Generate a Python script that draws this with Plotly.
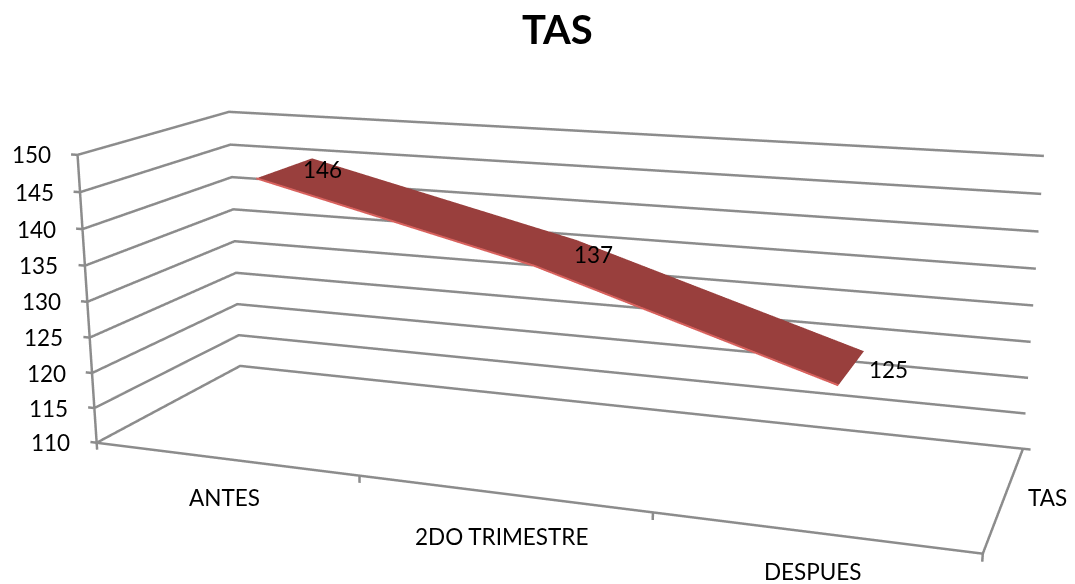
import plotly.graph_objects as go

categories = ["ANTES", "2DO TRIMESTRE", "DESPUES"]
series_name = "TAS"
values = [146, 137, 125]
z_ticks = list(range(110, 151, 5))

# Window size, and a camera for the scene. Plotly's field of view is fixed, so the
# scene is drawn on a larger canvas that the window crops, which narrows the view.
W, H = 1075, 584
S = 2.7063
AXIS_CENTRE = (508.13, 355.39)
EYE = (0.6902, -1.9503, 0.5195)
CENTRE = (-0.0172, -0.1047, -0.0337)
UP = (0.0235, -0.0497, 0.8678)
ASPECT = (1, 0.3420, 0.3343)
RIBBON_DEPTH = (0.2945, 0.7024)
PAD = 1.1  # scene ranges are widened by this factor so edge lines are not clipped

CW, CH = round(W*S), round(H*S)
ox, oy = CW/2 - AXIS_CENTRE[0], CH/2 - AXIS_CENTRE[1]
def paper(px_x, px_y):
    return (px_x + ox)/CW, 1 - (px_y + oy)/CH
def padded(lo, hi):
    mid, half = (lo + hi)/2, (hi - lo)/2*PAD
    return [mid - half, mid + half]

x = [1, 2, 3]
y0, y1 = RIBBON_DEPTH
xlo, xhi, zlo, zhi = 0.5, 3.5, z_ticks[0], z_ticks[-1]

fig = go.Figure()
def seg(*pts):
    fig.add_trace(go.Scatter3d(x=[a[0] for a in pts], y=[a[1] for a in pts], z=[a[2] for a in pts],
        mode="lines", line=dict(color="#8C8C8C", width=5), hoverinfo="skip", showlegend=False))
for z in z_ticks:
    seg((xlo,0,z), (xlo,1,z), (xhi,1,z))
    seg((xlo-0.025,0,z), (xlo,0,z))
seg((xlo,0,zhi), (xlo,0,zlo-1))
seg((xlo,0,zlo), (xhi,0,zlo), (xhi,1,zlo))
for b in [1.5, 2.5]:
    seg((b,0,zlo), (b,0,zlo-1))
seg((xhi,0,zlo-1), (xhi,0,zlo))
seg((xhi,1,zlo), (xhi+0.025,1,zlo))

fig.add_trace(go.Surface(x=x, y=[y0, y1], z=[values, values], showscale=False,
    colorscale=[[0, "#993F3D"], [1, "#993F3D"]],
    lighting=dict(ambient=1, diffuse=0, specular=0, roughness=1, fresnel=0), hoverinfo="skip"))
fig.add_trace(go.Scatter3d(x=x, y=[y0]*3, z=values, mode="lines",
    line=dict(color="#D9625E", width=4), hoverinfo="skip", showlegend=False))

font = dict(family="Lato", size=22.5, color="#000000")
def ann(x_, y_, z_, text, xs=0, ys=0):
    return dict(x=x_, y=y_, z=z_, text=text, showarrow=False, xshift=xs, yshift=ys, font=font)
anns = [ann(x[i], 0.5, values[i], str(values[i]), 37, -2) for i in range(3)]
anns += [ann(xlo, 0, z, str(z), -46, 0) for z in z_ticks]
category_drop = [-39, -43, -39]
anns += [ann(x[i], 0, zlo, categories[i], 0, category_drop[i]) for i in range(3)]
anns += [ann(xhi, 0.5, zlo, series_name, 43, 0)]

hidden = dict(visible=False, showspikes=False)
tx, ty = paper(557, 30)
fig.update_layout(
    width=CW, height=CH, margin=dict(l=0, r=0, t=0, b=0), paper_bgcolor="white", showlegend=False,
    title=dict(text="<b>TAS</b>", x=tx, xanchor="center", y=ty, yanchor="middle",
               font=dict(family="Lato", size=40, color="#000000")),
    scene=dict(
        domain=dict(x=[0, 1], y=[0, 1]),
        aspectmode="manual", aspectratio=dict(x=ASPECT[0]*PAD, y=ASPECT[1]*PAD, z=ASPECT[2]*PAD),
        camera=dict(eye=dict(x=EYE[0], y=EYE[1], z=EYE[2]),
                    center=dict(x=CENTRE[0], y=CENTRE[1], z=CENTRE[2]),
                    up=dict(x=UP[0], y=UP[1], z=UP[2]), projection=dict(type="perspective")),
        xaxis=dict(hidden, range=padded(xlo, xhi)),
        yaxis=dict(hidden, range=padded(0, 1)),
        zaxis=dict(hidden, range=padded(zlo, zhi)),
        annotations=anns,
    ),
)
fig.write_html("out.html", post_script=f"document.documentElement.style.overflow='hidden';document.body.style.overflow='hidden';document.body.style.margin='{-oy:.0f}px 0 0 {-ox:.0f}px';")
